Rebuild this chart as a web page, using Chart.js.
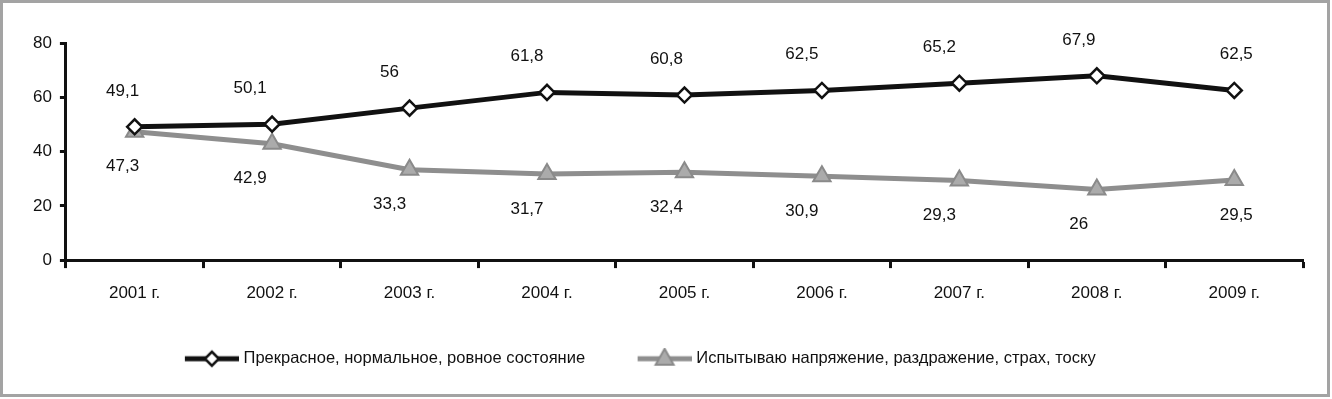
<!DOCTYPE html>
<html>
<head>
<meta charset="utf-8">
<script src="https://cdn.jsdelivr.net/npm/chart.js@4.4.1/dist/chart.umd.min.js"></script>
<style>
    html, body { margin: 0; padding: 0; background: #ffffff; }
    #wrap { position: relative; width: 1332px; height: 399px; }
    #frame { position: absolute; left: 0; top: 0; width: 1330px; height: 397px; box-sizing: border-box;
        border: 3px solid #a3a3a3; pointer-events: none; }
</style>
</head>
<body>
<div id="wrap">
    <canvas id="moodGraph"></canvas>
    <div id="frame"></div>
</div>
<script>
var years = ["2001 г.", "2002 г.", "2003 г.", "2004 г.", "2005 г.", "2006 г.", "2007 г.", "2008 г.", "2009 г."];
var goodMood = [49.1, 50.1, 56, 61.8, 60.8, 62.5, 65.2, 67.9, 62.5];
var badMood = [47.3, 42.9, 33.3, 31.7, 32.4, 30.9, 29.3, 26, 29.5];
var seriesNames = ["Прекрасное, нормальное, ровное состояние", "Испытываю напряжение, раздражение, страх, тоску"];
var yTicks = [0, 20, 40, 60, 80];

var fontFamily = "'Liberation Sans', Arial, sans-serif";
// horizontal shift of the value labels, the way excel placed them
var labelShiftX = [-12, -22, -20, -20, -18, -20, -20, -18, 2];

// legend swatch: line with the marker in the middle (transparent space on the left)
function legend_swatch(lineColor, draw_marker) {
    var c = document.createElement("canvas");
    c.width = 78;
    c.height = 22;
    var ctx = c.getContext("2d");
    ctx.strokeStyle = lineColor;
    ctx.lineWidth = 5;
    ctx.beginPath();
    ctx.moveTo(24, 11);
    ctx.lineTo(78, 11);
    ctx.stroke();
    draw_marker(ctx, 51, 11);
    return c;
}

var goodSwatch = legend_swatch("#111111", function (ctx, x, y) {
    ctx.beginPath();
    ctx.moveTo(x, y - 7);
    ctx.lineTo(x + 7, y);
    ctx.lineTo(x, y + 7);
    ctx.lineTo(x - 7, y);
    ctx.closePath();
    ctx.fillStyle = "#ffffff";
    ctx.fill();
    ctx.lineWidth = 2.5;
    ctx.strokeStyle = "#111111";
    ctx.stroke();
});
var badSwatch = legend_swatch("#8e8e8e", function (ctx, x, y) {
    ctx.beginPath();
    ctx.moveTo(x, y - 10);
    ctx.lineTo(x + 9, y + 6);
    ctx.lineTo(x - 9, y + 6);
    ctx.closePath();
    ctx.fillStyle = "#ababab";
    ctx.fill();
    ctx.lineWidth = 2;
    ctx.strokeStyle = "#8a8a8a";
    ctx.stroke();
});

var valueLabels = {
    id: "valueLabels",
    afterDatasetsDraw: function (chart) {
        var ctx = chart.ctx;
        ctx.save();
        ctx.font = "17px " + fontFamily;
        ctx.fillStyle = "#111111";
        ctx.textAlign = "center";
        ctx.textBaseline = "middle";
        chart.data.datasets.forEach(function (ds, i) {
            var meta = chart.getDatasetMeta(i);
            meta.data.forEach(function (pt, j) {
                var text = String(ds.data[j]).replace(".", ",");
                var dy = i == 0 ? -36 : 35;
                ctx.fillText(text, pt.x + labelShiftX[j], pt.y + dy);
            });
        });
        ctx.restore();
    },
};

// legend in the original sits a bit left of the centre
var legendShift = {
    id: "legendShift",
    afterLayout: function (chart) {
        chart.legend.left -= 34;
        chart.legend.right -= 34;
    },
};

var config = {
    type: "line",
    data: {
        labels: years,
        datasets: [
            {
                label: seriesNames[0],
                data: goodMood,
                borderColor: "#111111",
                borderWidth: 5,
                pointStyle: "rectRot",
                pointRadius: 7.5,
                pointBorderWidth: 2.5,
                pointBackgroundColor: "#ffffff",
                pointBorderColor: "#111111",
                tension: 0,
            },
            {
                label: seriesNames[1],
                data: badMood,
                borderColor: "#8e8e8e",
                borderWidth: 5,
                pointStyle: "triangle",
                pointRadius: 10,
                pointBorderWidth: 2,
                pointBackgroundColor: "#ababab",
                pointBorderColor: "#8a8a8a",
                tension: 0,
            },
        ],
    },
    options: {
        responsive: true,
        maintainAspectRatio: false,
        animation: false,
        layout: {
            padding: { left: 25, right: 29, top: 43, bottom: 22 },
        },
        plugins: {
            tooltip: { enabled: false },
            legend: {
                position: "bottom",
                labels: {
                    usePointStyle: true,
                    pointStyleWidth: 71,
                    padding: 32,
                    color: "#111111",
                    font: { family: fontFamily, size: 16.5 },
                    generateLabels: function (chart) {
                        return chart.data.datasets.map(function (ds, i) {
                            return {
                                text: ds.label,
                                pointStyle: i == 0 ? goodSwatch : badSwatch,
                                fillStyle: "transparent",
                                strokeStyle: "transparent",
                                lineWidth: 0,
                                fontColor: "#111111",
                                datasetIndex: i,
                            };
                        });
                    },
                },
            },
        },
        scales: {
            x: {
                offset: true,
                border: { display: true, color: "#111111", width: 3 },
                grid: {
                    display: true,
                    offset: true,
                    drawOnChartArea: false,
                    drawTicks: true,
                    tickLength: 8,
                    tickColor: "#111111",
                    tickWidth: 3,
                },
                ticks: {
                    color: "#111111",
                    padding: 15,
                    maxRotation: 0,
                    font: { family: fontFamily, size: 17 },
                },
            },
            y: {
                min: 0,
                max: 80,
                border: { display: true, color: "#111111", width: 3 },
                afterBuildTicks: function (axis) {
                    axis.ticks = yTicks.map(function (v) { return { value: v }; });
                },
                grid: {
                    display: true,
                    drawOnChartArea: false,
                    drawTicks: true,
                    tickLength: 6,
                    tickColor: "#111111",
                    tickWidth: 3,
                },
                ticks: {
                    color: "#111111",
                    padding: 8,
                    font: { family: fontFamily, size: 17 },
                },
            },
        },
    },
    plugins: [valueLabels, legendShift],
};

var moodGraph = new Chart("moodGraph", config);
</script>
</body>
</html>
